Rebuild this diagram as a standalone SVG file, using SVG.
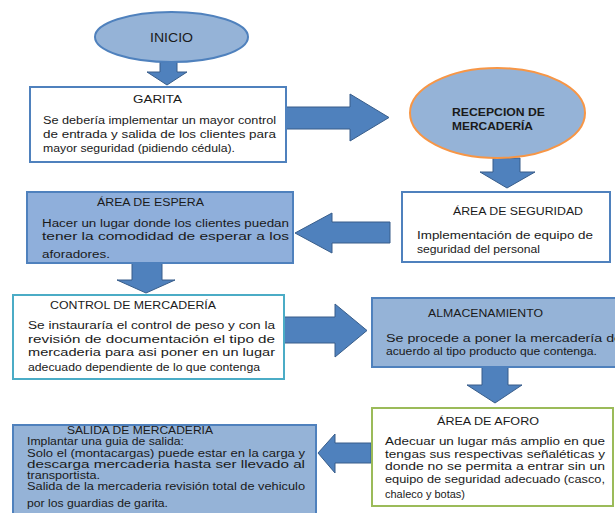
<svg xmlns="http://www.w3.org/2000/svg" width="615" height="513" viewBox="0 0 615 513">
<style>
text{font-family:"Liberation Sans",Arial,sans-serif;font-size:10px;fill:#1a1a1a}
.arrow{fill:#4F81BD;stroke:#385D8A;stroke-width:1}
.bw{fill:#ffffff;stroke:#4F81BD;stroke-width:2}
.bb{fill:#95B3D7;stroke:#4F81BD;stroke-width:2}
.el{fill:#95B3D7;stroke-width:2}
.sal{font-size:10px}
</style>
<rect width="615" height="513" fill="#ffffff"/>
<g id="connectors">
<polygon class="arrow" points="160,62 177,62 177,72 187,72 167,85 147,72 160,72"/>
<polygon class="arrow" points="285,107 350,107 350,94 389,117.5 350,141 350,129 285,129"/>
<polygon class="arrow" points="493,158 520,158 520,172 535,172 507,188 480,172 493,172"/>
<polygon class="arrow" points="390,222 332,222 332,213 295,233 332,253 332,243 390,243"/>
<polygon class="arrow" points="132,263 162,263 162,280 175,280 146,293 117,280 132,280"/>
<polygon class="arrow" points="283,317 335,317 335,304 367,330.5 335,357 335,343 283,343"/>
<polygon class="arrow" points="482,367 508,367 508,385 522,385 495,403 467,385 482,385"/>
<polygon class="arrow" points="371,443 335,443 335,434 318,453 335,473 335,463 371,463"/>
</g>
<g id="inicio">
<ellipse class="el" cx="171.5" cy="37" rx="76.5" ry="25" stroke="#4F81BD"/>
<text x="150" y="41.5" style="font-size:12.5px" textLength="43" lengthAdjust="spacingAndGlyphs">INICIO</text>
</g>
<g id="garita">
<rect class="bw" x="30" y="87" width="256" height="75"/>
<text x="133" y="103" textLength="49" lengthAdjust="spacingAndGlyphs">GARITA</text>
<text x="43" y="124" textLength="233" lengthAdjust="spacingAndGlyphs">Se debería implementar un mayor control</text>
<text x="43" y="137.5" textLength="233" lengthAdjust="spacingAndGlyphs">de entrada y salida de los clientes para</text>
<text x="43" y="151.5" textLength="192" lengthAdjust="spacingAndGlyphs">mayor seguridad (pidiendo cédula).</text>
</g>
<g id="recepcion">
<ellipse class="el" cx="497.5" cy="113" rx="87.5" ry="45" stroke="#F79646"/>
<text x="452" y="116" font-weight="bold" textLength="93" lengthAdjust="spacingAndGlyphs">RECEPCION DE</text>
<text x="452" y="130" font-weight="bold" textLength="81" lengthAdjust="spacingAndGlyphs">MERCADERÍA</text>
</g>
<g id="seguridad">
<rect class="bw" x="402" y="192" width="208" height="70"/>
<text x="453" y="215" textLength="130" lengthAdjust="spacingAndGlyphs">ÁREA DE SEGURIDAD</text>
<text x="417" y="239" textLength="176" lengthAdjust="spacingAndGlyphs">Implementación de equipo de</text>
<text x="417" y="253" textLength="123" lengthAdjust="spacingAndGlyphs">seguridad del personal</text>
</g>
<g id="espera">
<rect class="bb" x="27" y="192" width="266" height="71" style="fill:#8FAFDB"/>
<text x="97" y="206" textLength="107" lengthAdjust="spacingAndGlyphs">ÁREA DE ESPERA</text>
<text x="42" y="227" textLength="247" lengthAdjust="spacingAndGlyphs">Hacer un lugar donde los clientes puedan</text>
<text x="42" y="240" textLength="247" lengthAdjust="spacingAndGlyphs">tener la comodidad de esperar a los</text>
<text x="42" y="258" textLength="68" lengthAdjust="spacingAndGlyphs">aforadores.</text>
</g>
<g id="control">
<rect class="bw" x="13" y="295" width="271" height="84" style="stroke:#4BACC6"/>
<text x="50" y="309" textLength="166" lengthAdjust="spacingAndGlyphs">CONTROL DE MERCADERÍA</text>
<text x="28" y="329" textLength="247" lengthAdjust="spacingAndGlyphs">Se instauraría el control de peso y con la</text>
<text x="28" y="343" textLength="247" lengthAdjust="spacingAndGlyphs">revisión de documentación el tipo de</text>
<text x="28" y="356" textLength="247" lengthAdjust="spacingAndGlyphs">mercaderia para asi poner en un lugar</text>
<text x="28" y="371" textLength="232" lengthAdjust="spacingAndGlyphs">adecuado dependiente de lo que contenga</text>
</g>
<g id="almacenamiento">
<rect class="bb" x="372" y="298" width="250" height="69"/>
<text x="428" y="317" textLength="115" lengthAdjust="spacingAndGlyphs">ALMACENAMIENTO</text>
<text x="386" y="342" textLength="236" lengthAdjust="spacingAndGlyphs">Se procede a poner la mercadería de</text>
<text x="386" y="355" textLength="211" lengthAdjust="spacingAndGlyphs">acuerdo al tipo producto que contenga.</text>
</g>
<g id="aforo">
<rect class="bw" x="372" y="408" width="241" height="98" style="stroke:#9BBB59"/>
<text x="437" y="425" textLength="102" lengthAdjust="spacingAndGlyphs">ÁREA DE AFORO</text>
<text x="385" y="445" textLength="220" lengthAdjust="spacingAndGlyphs">Adecuar un lugar más amplio en que</text>
<text x="385" y="458" textLength="220" lengthAdjust="spacingAndGlyphs">tengas sus  respectivas señaléticas y</text>
<text x="385" y="470" textLength="220" lengthAdjust="spacingAndGlyphs">donde no se permita a entrar sin un</text>
<text x="385" y="483" textLength="220" lengthAdjust="spacingAndGlyphs">equipo de seguridad adecuado (casco,</text>
<text x="385" y="498" textLength="80" lengthAdjust="spacingAndGlyphs">chaleco y botas)</text>
</g>
<g id="salida">
<rect class="bb" x="13" y="425" width="303" height="92"/>
<text class="sal" x="67" y="434" textLength="146" lengthAdjust="spacingAndGlyphs">SALIDA DE MERCADERIA</text>
<text class="sal" x="27" y="445" textLength="157" lengthAdjust="spacingAndGlyphs">Implantar una guia de salida:</text>
<text class="sal" x="27" y="456.5" textLength="278" lengthAdjust="spacingAndGlyphs">Solo el (montacargas) puede estar en la carga y</text>
<text class="sal" x="27" y="467.5" textLength="278" lengthAdjust="spacingAndGlyphs">descarga mercaderia hasta ser llevado al</text>
<text class="sal" x="27" y="478.5" textLength="73" lengthAdjust="spacingAndGlyphs">transportista.</text>
<text class="sal" x="27" y="490" textLength="278" lengthAdjust="spacingAndGlyphs">Salida de la mercaderia revisión total de vehiculo</text>
<text class="sal" x="27" y="507" textLength="141" lengthAdjust="spacingAndGlyphs">por los guardias de garita.</text>
</g>
</svg>
